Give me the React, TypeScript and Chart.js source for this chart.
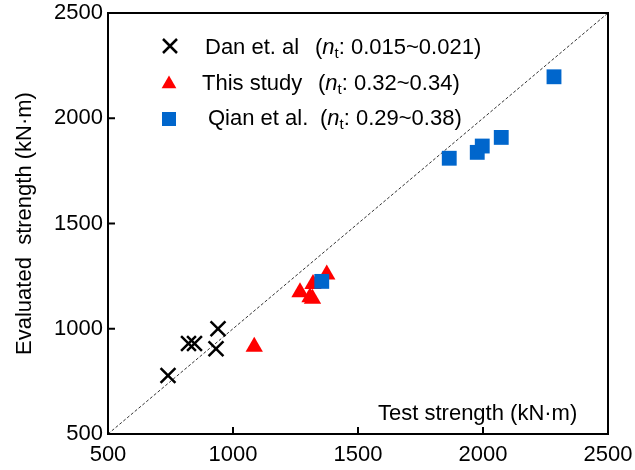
import React, { useEffect, useRef } from "react";
import { Chart, registerables } from "chart.js";

Chart.register(...registerables);

// ---- data ----
const danX = [740, 822, 846, 932, 940];
const danY = [778, 930, 930, 905, 1000];

const studyX = [1085, 1268, 1308, 1318, 1320, 1375];
const studyY = [915, 1173, 1150, 1143, 1212, 1258];

const qianX = [1355, 1865, 1977, 1997, 2073, 2284];
const qianY = [1225, 1810, 1838, 1868, 1909, 2197];

const diagX = [500, 2500];
const diagY = [500, 2500];

const axisTicks = [500, 1000, 1500, 2000, 2500];

const legendLabels = ["Dan et. al", "This study", "Qian et al."];
const legendRanges = ["0.015~0.021)", "0.32~0.34)", "0.29~0.38)"];

const xTitle = "Test strength (kN\u00b7m)";
const yTitle = "Evaluated  strength (kN\u00b7m)";

const FONT = '"Liberation Sans", Arial, Helvetica, sans-serif';
const BLUE = "#0066cc";
const RED = "#ff0000";

const zip = (xs: number[], ys: number[]) => xs.map((x, i) => ({ x, y: ys[i] }));

const decorPlugin = {
  id: "decor",
  afterDatasetsDraw(chart: any) {
    const ctx = chart.ctx as CanvasRenderingContext2D;
    const { left, right, top, bottom } = chart.chartArea;
    const xs = chart.scales.x;
    const ys = chart.scales.y;
    ctx.save();
    // frame
    ctx.strokeStyle = "#000";
    ctx.lineWidth = 2;
    ctx.strokeRect(left, top, right - left, bottom - top);
    // inward ticks
    ctx.beginPath();
    axisTicks.forEach((v) => {
      const px = xs.getPixelForValue(v);
      ctx.moveTo(px, bottom);
      ctx.lineTo(px, bottom - 7);
      const py = ys.getPixelForValue(v);
      ctx.moveTo(left, py);
      ctx.lineTo(left + 7, py);
    });
    ctx.stroke();

    // titles
    ctx.fillStyle = "#000";
    ctx.font = `22px ${FONT}`;
    ctx.textAlign = "left";
    ctx.textBaseline = "alphabetic";
    ctx.fillText(xTitle, 378, 420);

    ctx.save();
    ctx.translate(31, (top + bottom) / 2);
    ctx.rotate(-Math.PI / 2);
    ctx.textAlign = "center";
    ctx.fillText(yTitle, 0, 0);
    ctx.restore();

    // legend
    const rows = [
      { mx: 170, my: 46, base: 54, lx: 205, px: 315 },
      { mx: 169, my: 84, base: 90, lx: 202, px: 318 },
      { mx: 169, my: 119, base: 125, lx: 208, px: 320 },
    ];
    rows.forEach((r, i) => {
      if (i === 0) {
        ctx.strokeStyle = "#000";
        ctx.lineWidth = 2.5;
        const d = 7;
        ctx.beginPath();
        ctx.moveTo(r.mx - d, r.my - d);
        ctx.lineTo(r.mx + d, r.my + d);
        ctx.moveTo(r.mx + d, r.my - d);
        ctx.lineTo(r.mx - d, r.my + d);
        ctx.stroke();
      } else if (i === 1) {
        ctx.fillStyle = RED;
        const rr = 8.5;
        ctx.beginPath();
        ctx.moveTo(r.mx, r.my - rr);
        ctx.lineTo(r.mx + rr * 0.866, r.my + rr * 0.5);
        ctx.lineTo(r.mx - rr * 0.866, r.my + rr * 0.5);
        ctx.closePath();
        ctx.fill();
      } else {
        ctx.fillStyle = BLUE;
        ctx.fillRect(r.mx - 7, r.my - 7, 14, 14);
      }
      ctx.fillStyle = "#000";
      ctx.textAlign = "left";
      ctx.textBaseline = "alphabetic";
      ctx.font = `22px ${FONT}`;
      ctx.fillText(legendLabels[i], r.lx, r.base);
      let x = r.px;
      ctx.fillText("(", x, r.base);
      x += ctx.measureText("(").width;
      ctx.font = `italic 22px ${FONT}`;
      ctx.fillText("n", x, r.base);
      x += ctx.measureText("n").width;
      ctx.font = `15px ${FONT}`;
      ctx.fillText("t", x, r.base + 4);
      x += ctx.measureText("t").width;
      ctx.font = `22px ${FONT}`;
      ctx.fillText(": " + legendRanges[i], x, r.base);
    });
    ctx.restore();
  },
};

export default function App() {
  const ref = useRef<HTMLCanvasElement | null>(null);
  useEffect(() => {
    document.body.style.margin = "0";
    const canvas = ref.current;
    if (!canvas) return;
    const tickFont = { family: FONT, size: 22 };
    const chart = new Chart(canvas, {
      type: "scatter",
      data: {
        datasets: [
          {
            type: "line",
            label: "1:1",
            data: zip(diagX, diagY),
            borderColor: "#333",
            borderWidth: 1,
            borderDash: [3, 2],
            pointRadius: 0,
            fill: false,
            order: 4,
          } as any,
          {
            label: "Dan et. al",
            data: zip(danX, danY),
            pointStyle: "crossRot",
            pointRadius: 10.5,
            borderColor: "#000",
            backgroundColor: "#000",
            borderWidth: 2.5,
            order: 3,
          },
          {
            label: "This study",
            data: zip(studyX, studyY),
            pointStyle: "triangle",
            pointRadius: 10,
            borderColor: RED,
            backgroundColor: RED,
            borderWidth: 0,
            order: 2,
          },
          {
            label: "Qian et al.",
            data: zip(qianX, qianY),
            pointStyle: "rect",
            pointRadius: 10.5,
            borderColor: BLUE,
            backgroundColor: BLUE,
            borderWidth: 0,
            order: 1,
          },
        ],
      },
      options: {
        responsive: false,
        animation: false,
        events: [],
        layout: { padding: { top: 13, right: 27, left: 0, bottom: 0 } },
        plugins: { legend: { display: false }, tooltip: { enabled: false } },
        scales: {
          x: {
            type: "linear",
            min: 500,
            max: 2500,
            afterFit: (s: any) => {
              s.height = 36;
              s.paddingLeft = 0;
              s.paddingRight = 0;
            },
            afterBuildTicks: (s: any) => {
              s.ticks = axisTicks.map((v) => ({ value: v }));
            },
            grid: { display: false, drawTicks: false },
            border: { display: false },
            ticks: {
              color: "#000",
              font: tickFont,
              padding: 8,
              maxRotation: 0,
              callback: (v: any) => String(v),
            },
          },
          y: {
            type: "linear",
            min: 500,
            max: 2500,
            afterFit: (s: any) => {
              s.width = 108;
              s.paddingTop = 0;
              s.paddingBottom = 0;
            },
            afterBuildTicks: (s: any) => {
              s.ticks = axisTicks.map((v) => ({ value: v }));
            },
            grid: { display: false, drawTicks: false },
            border: { display: false },
            ticks: {
              color: "#000",
              font: tickFont,
              padding: 5,
              callback: (v: any) => String(v),
            },
          },
        },
      },
      plugins: [decorPlugin],
    });
    return () => chart.destroy();
  }, []);
  return (
    <div style={{ width: 635, height: 470 }}>
      <canvas ref={ref} width={635} height={470} style={{ display: "block" }} />
    </div>
  );
}
